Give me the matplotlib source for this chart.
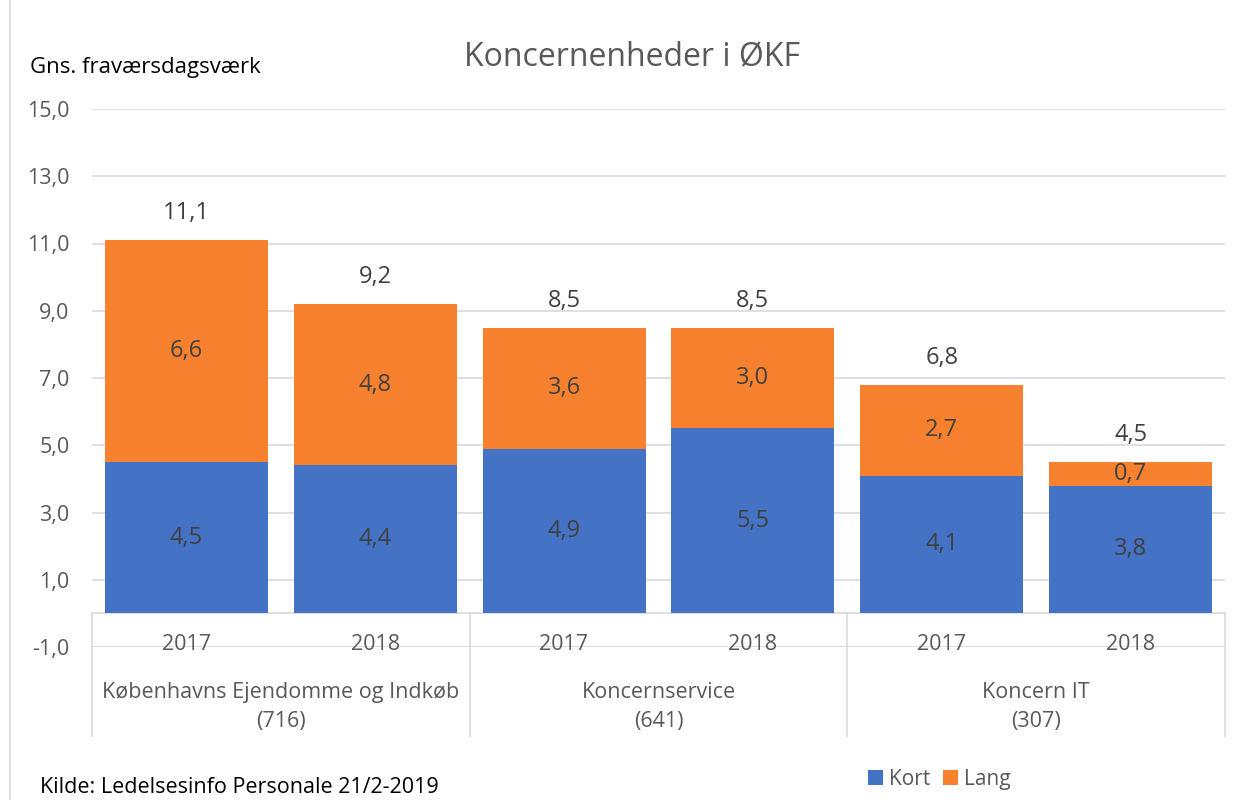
import numpy as np
import matplotlib
matplotlib.use("Agg")
from matplotlib import pyplot as plt
from matplotlib.lines import Line2D

# data
years = ["2017", "2018", "2017", "2018", "2017", "2018"]
groups = ["Københavns Ejendomme og Indkøb\n(716)", "Koncernservice\n(641)", "Koncern IT\n(307)"]
kort = [4.5, 4.4, 4.9, 5.5, 4.1, 3.8]
lang = [6.6, 4.8, 3.6, 3.0, 2.7, 0.7]
yticks = [-1, 1, 3, 5, 7, 9, 11, 13, 15]

BLUE = "#4472C4"
ORANGE = "#F7812F"
GRID = "#D9D9D9"
TICK = "#595959"
LAB = "#404040"

plt.rcParams['font.family'] = ['Open Sans', 'DejaVu Sans']

fig = plt.figure(figsize=(12.41, 8), dpi=100)
ax = fig.add_axes([0.0741, 0.19125, 0.913, 0.6725])

x = np.arange(len(kort))
totals = np.array(kort) + np.array(lang)
ax.bar(x, kort, width=0.863, color=BLUE, label="Kort", zorder=3)
ax.bar(x, lang, width=0.863, bottom=kort, color=ORANGE, label="Lang", zorder=3)

def fmt(v):
    return f"{v:.1f}".replace(".", ",")

for i in range(len(kort)):
    ax.text(x[i], kort[i] / 2, fmt(kort[i]), ha="center", va="center", fontsize=17, color=LAB, zorder=4)
    ax.text(x[i], kort[i] + lang[i] / 2, fmt(lang[i]), ha="center", va="center", fontsize=17, color=LAB, zorder=4)
    ax.text(x[i], totals[i] + 0.8, fmt(totals[i]), ha="center", va="center", fontsize=17, color=LAB, zorder=4)

ax.set_xlim(-0.5, len(kort) - 0.5)
ax.set_ylim(-1, 15)
ax.set_yticks(yticks)
ax.set_yticklabels([fmt(v) for v in yticks], fontsize=15.5, color=TICK)
ax.set_xticks([])
ax.tick_params(axis="y", length=0, pad=16)
ax.grid(axis="y", color=GRID, linewidth=1.2, zorder=0)
for s in ax.spines.values():
    s.set_visible(False)

# category axis: line at zero, group separators, year and group labels
ax.plot([-0.5, len(kort) - 0.5], [0, 0], color=GRID, lw=1.2, clip_on=False, zorder=2)
for sep in [-0.5, 1.5, 3.5, 5.5]:
    ax.plot([sep, sep], [0, -3.66], color=GRID, lw=1.2, clip_on=False, zorder=2)
for i, yr in enumerate(years):
    ax.text(x[i], -0.93, yr, ha="center", va="center", fontsize=15.5, color=TICK)
for g, name in enumerate(groups):
    ax.text(2 * g + 0.5, -2.78, name, ha="center", va="center", fontsize=15.5, color=TICK, linespacing=1.5)

fig.text(0.509, 0.929, "Koncernenheder i ØKF", ha="center", va="center", fontsize=23, color=TICK)
fig.text(0.024, 0.915, "Gns. fraværsdagsværk", ha="left", va="center", fontsize=16, color="#000000")
fig.text(0.032, 0.003, "Kilde: Ledelsesinfo Personale 21/2-2019", ha="left", va="bottom", fontsize=15.5, color="#000000")

fig.legend(loc="center", bbox_to_anchor=(0.757, 0.026), ncol=2, frameon=False, fontsize=15,
           handlelength=0.7, handleheight=0.7, handletextpad=0.3, columnspacing=0.6, labelcolor=TICK)

fig.add_artist(Line2D([0.008, 0.008], [0, 1], color=GRID, lw=1.2))

fig.savefig("out.png", dpi=100)
